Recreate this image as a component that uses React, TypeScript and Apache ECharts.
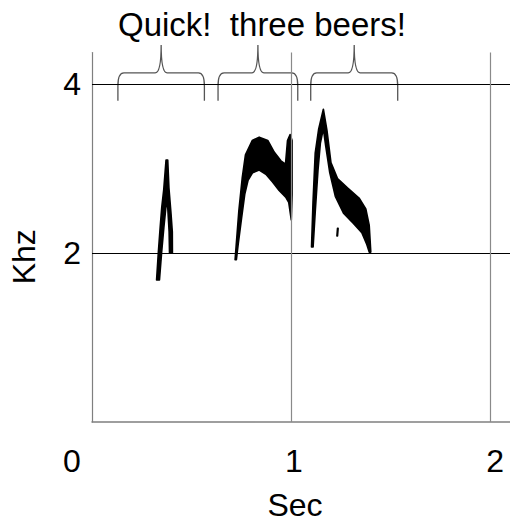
import React, { useEffect, useRef } from "react";
import * as echarts from "echarts";

// ---- data ----
const xTicks = [0, 1, 2];
const xTickLabels = ["0", "1", "2"];
const yTicks = [2, 4];
const yTickLabels = ["2", "4"];
const hGridLines = [2, 4]; // kHz
const vGridLines = [1, 2]; // sec

const titleText = "Quick!  three beers!";
const xName = "Sec";
const yName = "Khz";

// syllable outlines [sec, kHz]
const quickOutline = [
  [0.324, 1.68], [0.333, 2.01], [0.342, 2.3], [0.35, 2.54], [0.36, 2.75],
  [0.3715, 3.1], [0.38, 3.1], [0.386, 2.77], [0.396, 2.48], [0.403, 2.25],
  [0.4035, 2.0], [0.389, 2.0], [0.387, 2.25], [0.38, 2.54], [0.376, 2.62],
  [0.37, 2.52], [0.3605, 2.3], [0.3495, 2.01], [0.3385, 1.68],
];
const threeOutline = [
  [0.718, 1.92], [0.737, 2.5], [0.754, 2.89], [0.77, 3.16], [0.804, 3.33],
  [0.839, 3.37], [0.882, 3.33], [0.915, 3.19], [0.948, 3.09], [0.971, 3.05],
  [0.981, 3.33], [0.994, 3.4], [1.004, 3.33], [1.004, 2.69], [1.0, 2.39],
  [0.987, 2.6], [0.972, 2.66], [0.939, 2.74], [0.906, 2.84], [0.8725, 2.93],
  [0.839, 2.98], [0.806, 2.95], [0.783, 2.86], [0.767, 2.7], [0.751, 2.42],
  [0.734, 2.11], [0.7245, 1.92],
];
const beersOutline = [
  [1.1015, 2.07], [1.109, 2.6], [1.12, 3.18], [1.137, 3.46], [1.161, 3.7],
  [1.179, 3.45], [1.199, 3.07], [1.232, 2.88], [1.282, 2.77], [1.34, 2.65],
  [1.374, 2.52], [1.391, 2.33], [1.399, 2.01], [1.391, 2.01], [1.379, 2.1],
  [1.354, 2.24], [1.312, 2.35], [1.262, 2.47], [1.221, 2.67], [1.193, 2.95],
  [1.1725, 3.27], [1.161, 3.47], [1.146, 3.3], [1.134, 2.98], [1.12, 2.48],
  [1.1095, 2.07],
];
const speckOutline = [
  [1.229, 2.2], [1.232, 2.29], [1.235, 2.29], [1.232, 2.2],
];
const syllables = [quickOutline, threeOutline, beersOutline, speckOutline];

// braces over the phrases: start/end in sec, heights in kHz
const braceStart = [0.13, 0.6325, 1.0975];
const braceEnd = [0.564, 1.0325, 1.534];
const braceFoot = 3.8;
const braceArm = 4.13;
const braceTip = 4.46;

const FONT = "'Liberation Sans', Arial, sans-serif";

export default function App() {
  const ref = useRef<HTMLDivElement>(null);

  useEffect(() => {
    if (!ref.current) return;
    const chart = echarts.init(ref.current, null, { renderer: "svg" });

    const xLabelRich: any = {
      l0: { fontSize: 32, fontFamily: FONT, color: "#000", padding: [0, 40, 0, 0] },
      l1: { fontSize: 32, fontFamily: FONT, color: "#000", padding: [0, 0, 0, 5] },
      l2: { fontSize: 32, fontFamily: FONT, color: "#000", padding: [0, 0, 0, 9] },
    };

    const option: any = {
      animation: false,
      backgroundColor: "#fff",
      title: {
        text: titleText,
        left: 118,
        top: 0,
        padding: [8, 0, 0, 0],
        textStyle: { fontSize: 33, fontWeight: "normal", fontFamily: FONT, color: "#000" },
      },
      grid: { left: 90.5, right: 0, top: 52.6, bottom: 98, containLabel: false },
      xAxis: {
        type: "value",
        min: 0,
        max: 2.0975,
        name: xName,
        nameLocation: "middle",
        nameGap: 67,
        nameTextStyle: { fontSize: 32, fontFamily: FONT, color: "#000", padding: [0, 12, 0, 0] },
        axisLine: { show: true, onZero: false, lineStyle: { color: "#7f7f7f", width: 1.5 } },
        axisTick: { show: false },
        splitLine: { show: false },
        axisLabel: {
          customValues: xTicks,
          margin: 23,
          fontSize: 32,
          fontFamily: FONT,
          color: "#000",
          hideOverlap: false,
          formatter: (v: number) => {
            const i = xTicks.indexOf(v);
            return i < 0 ? "" : `{l${i}|${xTickLabels[i]}}`;
          },
          rich: xLabelRich,
        },
      },
      yAxis: {
        type: "value",
        min: 0,
        max: 4.37,
        name: yName,
        nameLocation: "middle",
        nameRotate: 90,
        nameGap: 52,
        nameTextStyle: { fontSize: 32, fontFamily: FONT, color: "#000", padding: [0, 39, 0, 0] },
        axisLine: { show: true, onZero: false, lineStyle: { color: "#7f7f7f", width: 1.2 } },
        axisTick: { show: false },
        splitLine: { show: false },
        axisLabel: {
          customValues: yTicks,
          margin: 11,
          fontSize: 32,
          fontFamily: FONT,
          color: "#000",
          formatter: (v: number) => {
            const i = yTicks.indexOf(v);
            return i < 0 ? "" : yTickLabels[i];
          },
        },
      },
      series: [
        {
          type: "line",
          data: [],
          silent: true,
          markLine: {
            silent: true,
            symbol: "none",
            label: { show: false },
            animation: false,
            data: [
              ...hGridLines.map((y) => ({ yAxis: y, lineStyle: { color: "#000", width: 1, type: "solid" } })),
              ...vGridLines.map((x) => ({ xAxis: x, lineStyle: { color: "#8a8a8a", width: 1.2, type: "solid" } })),
            ],
          },
        },
        {
          type: "custom",
          clip: false,
          silent: true,
          data: syllables.map((s) => s[0]),
          renderItem: (params: any, api: any) => {
            const pts = syllables[params.dataIndex].map((p) => api.coord(p));
            return {
              type: "polygon",
              shape: { points: pts },
              style: { fill: "#000", stroke: "#000", lineWidth: 1.6, lineJoin: "round" },
            };
          },
        },
        {
          type: "custom",
          clip: false,
          silent: true,
          data: braceStart.map((s, i) => [s, braceFoot, braceEnd[i]]),
          renderItem: (params: any, api: any) => {
            const s = api.value(0);
            const e = api.value(2);
            const [x0, yb] = api.coord([s, braceFoot]);
            const [x1] = api.coord([e, braceFoot]);
            const ym = api.coord([s, braceArm])[1];
            const yt = api.coord([s, braceTip])[1];
            const xc = (x0 + x1) / 2;
            const d =
              `M${x0},${yb} L${x0},${ym + 13} Q${x0},${ym} ${x0 + 6},${ym} ` +
              `L${xc - 6},${ym} Q${xc},${ym} ${xc},${yt} Q${xc},${ym} ${xc + 6},${ym} ` +
              `L${x1 - 6},${ym} Q${x1},${ym} ${x1},${ym + 13} L${x1},${yb}`;
            return {
              type: "path",
              shape: { pathData: d },
              style: { fill: "none", stroke: "#555", lineWidth: 1.3 },
            };
          },
        },
      ],
    };

    chart.setOption(option);
    return () => chart.dispose();
  }, []);

  return (
    <div
      ref={ref}
      style={{ position: "fixed", left: 0, top: 0, width: 510, height: 526, background: "#fff" }}
    />
  );
}
